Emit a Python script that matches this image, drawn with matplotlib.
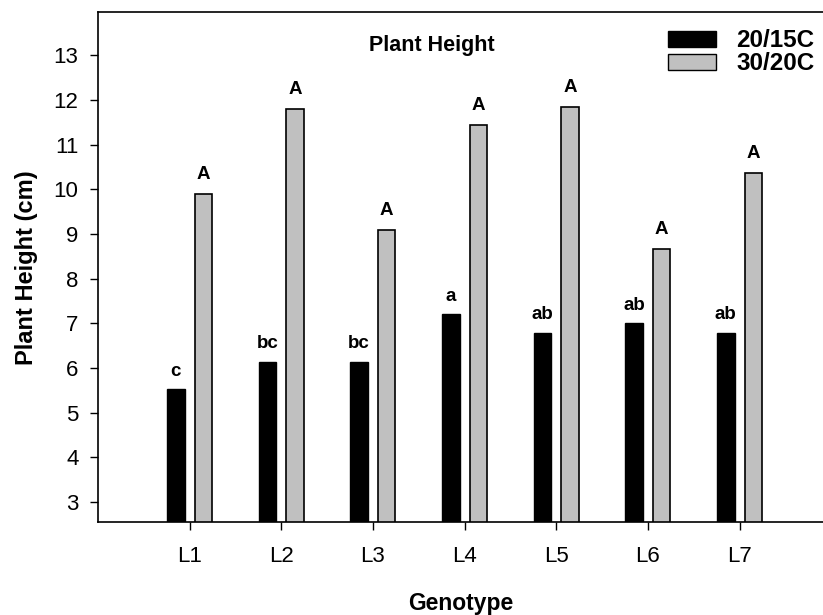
import numpy as np
import matplotlib.pyplot as plt
from matplotlib.patches import Patch

plt.rcParams['font.family'] = ['Liberation Sans', 'DejaVu Sans']

genotypes = ['L1', 'L2', 'L3', 'L4', 'L5', 'L6', 'L7']
low_temp = [5.52, 6.14, 6.14, 7.2, 6.78, 7.0, 6.78]      # 20/15C
high_temp = [9.9, 11.79, 9.09, 11.43, 11.84, 8.67, 10.37]  # 30/20C
low_letters = ['c', 'bc', 'bc', 'a', 'ab', 'ab', 'ab']
high_letters = ['A', 'A', 'A', 'A', 'A', 'A', 'A']

fig = plt.figure(figsize=(8.23, 6.15), dpi=100)
ax = fig.add_axes([0.119, 0.151, 0.881, 0.829])

x = np.arange(1, len(genotypes) + 1)
w = 0.19
ax.bar(x - 0.15, low_temp, w, color='black', edgecolor='black', linewidth=1)
ax.bar(x + 0.15, high_temp, w, color='#c0c0c0', edgecolor='black', linewidth=1.2)

for xi, v, t in zip(x - 0.15, low_temp, low_letters):
    ax.annotate(t, (xi, v), xytext=(0, 7), textcoords='offset points',
                ha='center', va='bottom', fontsize=13.5, fontweight='bold')
for xi, v, t in zip(x + 0.15, high_temp, high_letters):
    ax.annotate(t, (xi, v), xytext=(0, 8), textcoords='offset points',
                ha='center', va='bottom', fontsize=13.5, fontweight='bold')

ax.set_xlim(0, 7.91)
ax.set_ylim(2.55, 13.96)
ax.set_xticks(x)
ax.set_xticklabels(genotypes)
ax.set_yticks(range(3, 14))
ax.tick_params(labelsize=16, length=6, width=1, direction='out')
ax.tick_params(axis='x', pad=11)
ax.tick_params(axis='y', pad=8)
ax.spines['right'].set_visible(False)
for s in ['left', 'top', 'bottom']:
    ax.spines[s].set_linewidth(1.2)

ax.set_xlabel('Genotype', fontsize=16.5, fontweight='bold', labelpad=18)
ax.set_ylabel('Plant Height (cm)', fontsize=17, fontweight='bold', labelpad=11)
ax.text(0.461, 0.935, 'Plant Height', transform=ax.transAxes, ha='center',
        va='center', fontsize=15.5, fontweight='bold')

handles = [Patch(facecolor='black', edgecolor='black'),
           Patch(facecolor='#c0c0c0', edgecolor='black')]
ax.legend(handles, ['20/15C', '30/20C'], loc='upper right', frameon=False,
          bbox_to_anchor=(1.012, 1.0), prop={'weight': 'bold', 'size': 17.5},
          handlelength=1.95, handleheight=0.62, labelspacing=0.0,
          handletextpad=0.85, borderpad=0.2)

fig.savefig('out.png', dpi=100)
